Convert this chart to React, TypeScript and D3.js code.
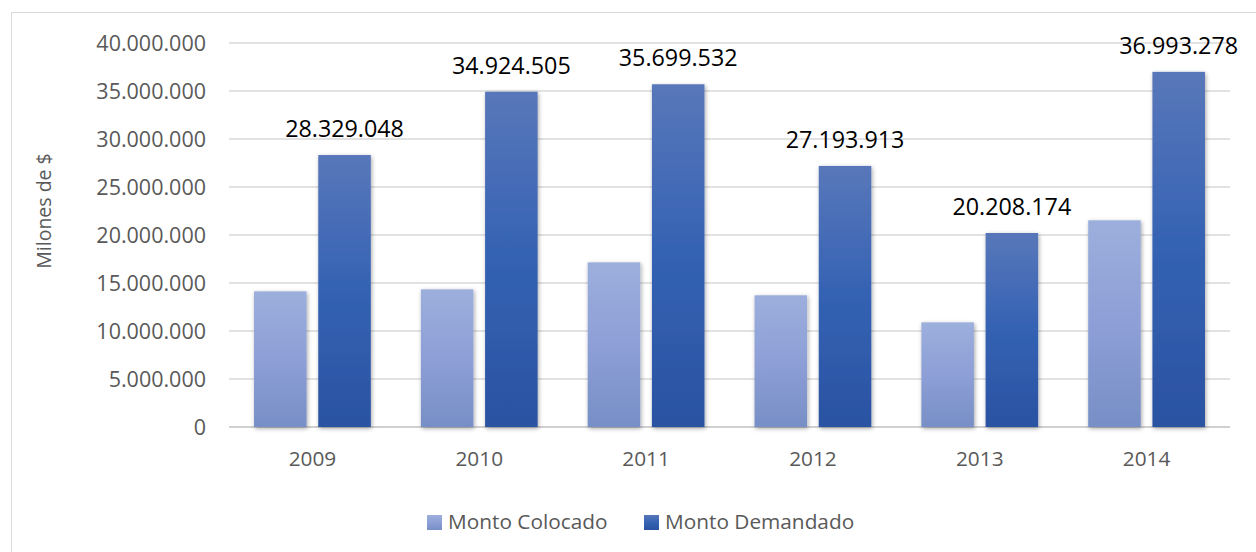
import React from "react";
import * as d3 from "d3";

const years = ["2009", "2010", "2011", "2012", "2013", "2014"];
const montoColocado = [14130000, 14340000, 17150000, 13720000, 10900000, 21530000];
const montoDemandado = [28329048, 34924505, 35699532, 27193913, 20208174, 36993278];
const yTicks = [0, 5000000, 10000000, 15000000, 20000000, 25000000, 30000000, 35000000, 40000000];
const seriesNames = ["Monto Colocado", "Monto Demandado"];

const W = 1256;
const H = 552;
const margin = { left: 229, right: 26, top: 43, bottom: 125 };
const FONT = "'Open Sans', 'DejaVu Sans', sans-serif";

const fmt = (v: number) => d3.format(",.0f")(v).replace(/,/g, ".");

export default function App() {
  const x0 = d3
    .scaleBand<string>()
    .domain(years)
    .range([margin.left, W - margin.right])
    .paddingInner(0)
    .paddingOuter(0);
  const y = d3.scaleLinear().domain([0, 40000000]).range([H - margin.bottom, margin.top]);
  const bw = x0.bandwidth() * 0.315;
  const gap = x0.bandwidth() * 0.07;

  return (
    <div style={{ position: "absolute", left: 0, top: 0 }}>
      <svg width={W} height={H} style={{ display: "block" }}>
        <defs>
          <linearGradient id="gC" x1="0" y1="0" x2="0" y2="1">
            <stop offset="0" stopColor="#9cafdc" />
            <stop offset="0.5" stopColor="#8d9fd6" />
            <stop offset="1" stopColor="#778fc6" />
          </linearGradient>
          <linearGradient id="gD" x1="0" y1="0" x2="0" y2="1">
            <stop offset="0" stopColor="#5977ba" />
            <stop offset="0.5" stopColor="#3462b3" />
            <stop offset="1" stopColor="#2b52a2" />
          </linearGradient>
          <filter id="sh" x="-30%" y="-10%" width="160%" height="120%">
            <feDropShadow dx="1" dy="1.5" stdDeviation="2.2" floodColor="#000" floodOpacity="0.35" />
          </filter>
        </defs>
        <rect x={0} y={0} width={W} height={H} fill="#fff" />
        <rect x={11.5} y={12.5} width={W + 20} height={H + 20} fill="#fff" stroke="#d9d9d9" strokeWidth={1} />

        {yTicks.map((t) => (
          <g key={t}>
            <line
              x1={margin.left}
              x2={W - margin.right}
              y1={y(t)}
              y2={y(t)}
              stroke={t === 0 ? "#d0d0d0" : "#d9d9d9"}
              strokeWidth={t === 0 ? 2 : 1.5}
            />
            <text
              x={206}
              y={y(t)}
              dy="0.35em"
              textAnchor="end"
              fontFamily={FONT}
              fontSize={21.5}
              fill="#595959"
            >
              {fmt(t)}
            </text>
          </g>
        ))}

        <text
          transform={`translate(51,${211}) rotate(-90)`}
          textAnchor="middle"
          fontFamily={FONT}
          fontSize={19.5}
          fill="#595959"
        >
          Milones de $
        </text>

        {years.map((yr, i) => {
          const cx = (x0(yr) as number) + x0.bandwidth() / 2;
          const xc = cx - gap / 2 - bw;
          const xd = cx + gap / 2;
          return (
            <g key={yr}>
              <rect
                x={xc}
                y={y(montoColocado[i])}
                width={bw}
                height={y(0) - y(montoColocado[i])}
                fill="url(#gC)"
                filter="url(#sh)"
              />
              <rect
                x={xd}
                y={y(montoDemandado[i])}
                width={bw}
                height={y(0) - y(montoDemandado[i])}
                fill="url(#gD)"
                filter="url(#sh)"
              />
              <text
                x={xd + bw / 2}
                y={y(montoDemandado[i]) - 18}
                textAnchor="middle"
                fontFamily={FONT}
                fontSize={23.3}
                fill="#000"
              >
                {fmt(montoDemandado[i])}
              </text>
              <text
                x={cx}
                y={466}
                textAnchor="middle"
                fontFamily={FONT}
                fontSize={20.8}
                fill="#595959"
              >
                {yr}
              </text>
            </g>
          );
        })}

        {seriesNames.map((name, i) => {
          const lx = i === 0 ? 427 : 644;
          return (
            <g key={name}>
              <rect x={lx} y={515} width={15} height={15} fill={i === 0 ? "url(#gC)" : "url(#gD)"} />
              <text x={lx + 21} y={529} fontFamily={FONT} fontSize={20.8} fill="#595959">
                {name}
              </text>
            </g>
          );
        })}
      </svg>
    </div>
  );
}
